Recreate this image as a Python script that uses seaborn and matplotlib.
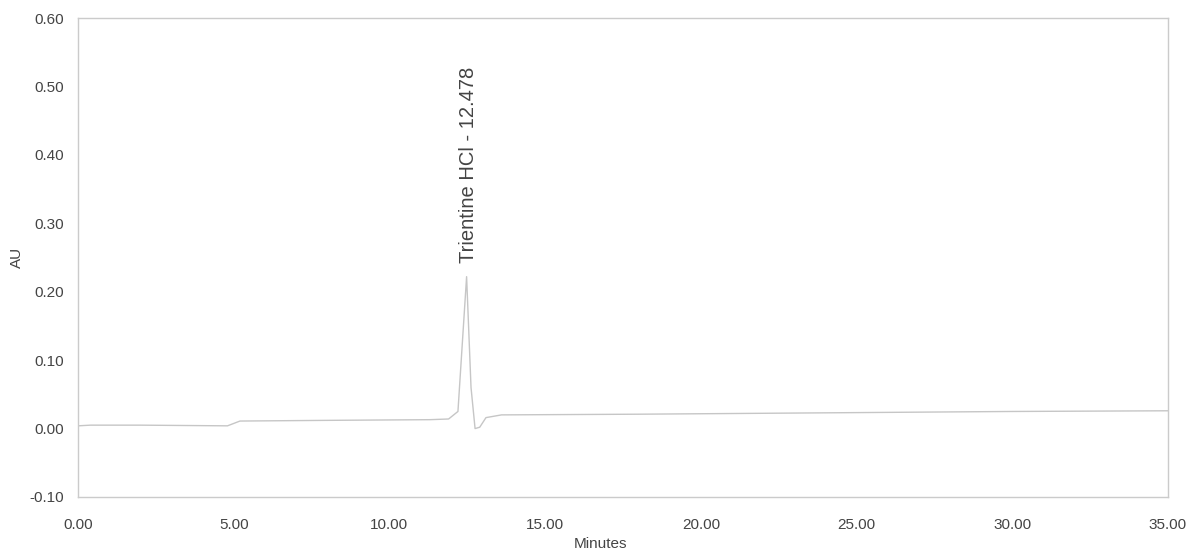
import matplotlib
matplotlib.use("Agg")
import matplotlib.pyplot as plt
import seaborn as sns
import pandas as pd

# Chromatogram trace (retention time in minutes, absorbance in AU)
minutes = [0.0, 0.4, 2.0, 4.8, 5.2, 8.0, 11.3, 11.9, 12.2, 12.478, 12.62, 12.75, 12.9, 13.1, 13.6, 18.0, 24.0, 30.0, 35.0]
absorbance = [0.004, 0.005, 0.005, 0.004, 0.011, 0.012, 0.013, 0.014, 0.025, 0.222, 0.06, 0.0, 0.002, 0.016, 0.020, 0.021, 0.023, 0.025, 0.026]

peak_name = "Trientine HCl"
peak_time = 12.478
peak_height = 0.222

x_ticks = [0, 5, 10, 15, 20, 25, 30, 35]
y_ticks = [-0.10, 0.00, 0.10, 0.20, 0.30, 0.40, 0.50, 0.60]

sns.set_theme(style="white")
plt.rcParams["font.family"] = ["Liberation Sans", "DejaVu Sans"]

fig = plt.figure(figsize=(11.93, 5.52), dpi=100)
ax = fig.add_axes([78 / 1193, 1 - 497 / 552, (1168 - 78) / 1193, (497 - 18) / 552])

df = pd.DataFrame({"Minutes": minutes, "AU": absorbance})
sns.lineplot(data=df, x="Minutes", y="AU", ax=ax, color="#c6c6c6", linewidth=1.0,
             estimator=None, sort=False)

ax.set_xlim(0, 35)
ax.set_ylim(-0.10, 0.60)
ax.set_xticks(x_ticks)
ax.set_xticklabels([f"{v:.2f}" for v in x_ticks])
ax.set_yticks(y_ticks)
ax.set_yticklabels([f"{v:.2f}" for v in y_ticks])

text_color = "#444444"
ax.tick_params(axis="both", labelsize=11, colors=text_color, length=3, width=0.8,
               direction="out")
ax.tick_params(axis="both", color="#c8c8c8")
ax.tick_params(axis="x", pad=12)
ax.tick_params(axis="y", pad=7)
ax.set_xlabel("Minutes", fontsize=11, color=text_color)
ax.set_ylabel("AU", fontsize=11, color=text_color)
ax.xaxis.set_label_coords(0.479, -0.083)
ax.yaxis.set_label_coords(-0.05, 0.5)

for side in ["left", "bottom", "right", "top"]:
    ax.spines[side].set_visible(True)
    ax.spines[side].set_color("#cbcbcb")
    ax.spines[side].set_linewidth(1.0)

ax.text(peak_time + 0.05, peak_height + 0.02, f"{peak_name} - {peak_time:.3f}",
        rotation=90, ha="center", va="bottom", fontsize=14.5, color=text_color)

fig.savefig("out.png", dpi=100, facecolor="white")
